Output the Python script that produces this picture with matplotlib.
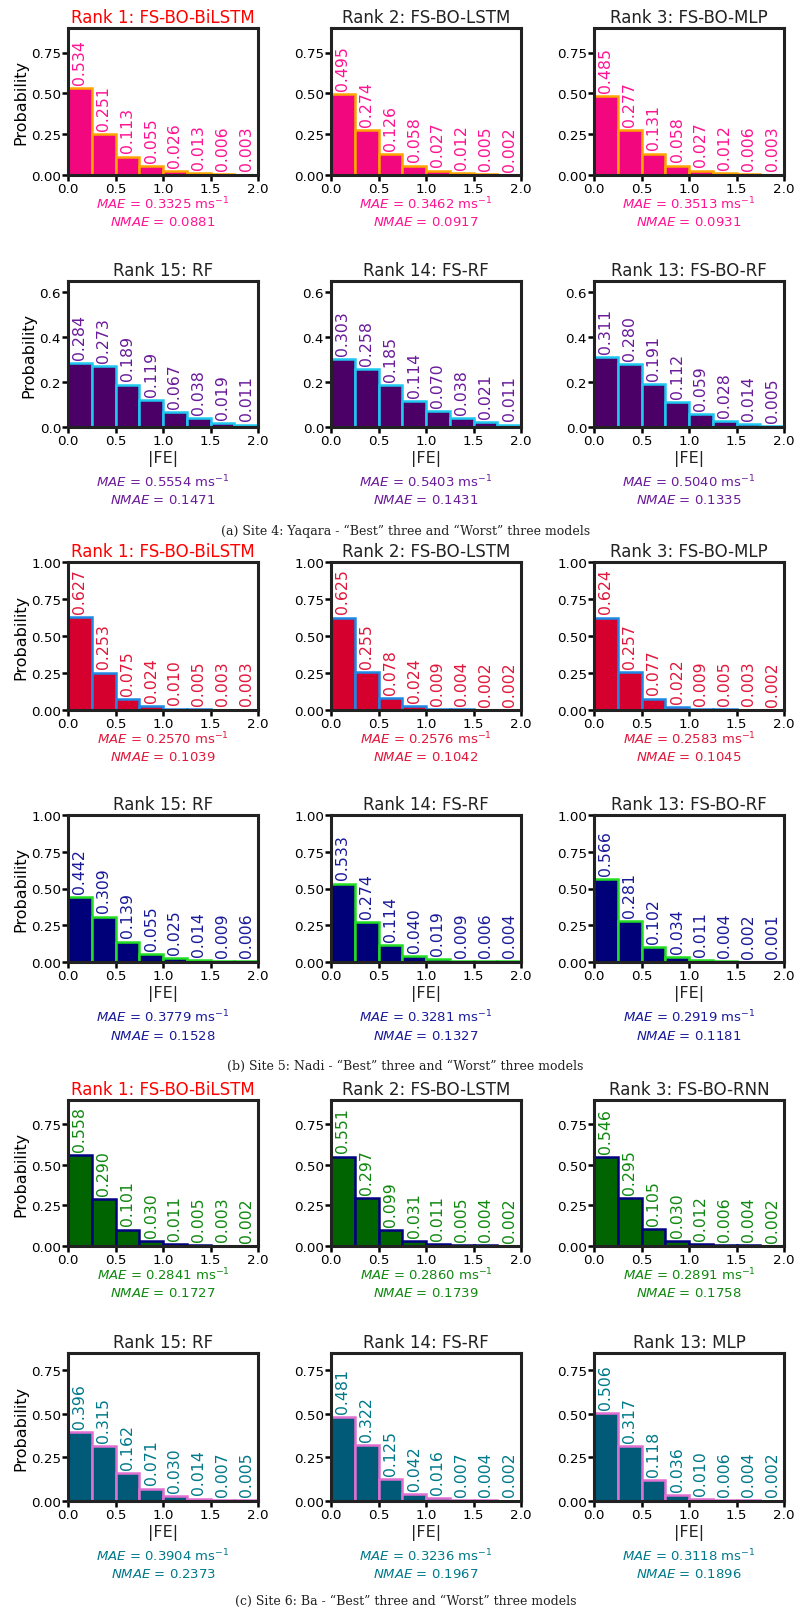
import numpy as np
import matplotlib
matplotlib.use("Agg")
import matplotlib.pyplot as plt

# bin edges of |FE| (width 0.25)
bin_edges = [0.0, 0.25, 0.5, 0.75, 1.0, 1.25, 1.5, 1.75]

# Site 4: Yaqara
a_best_titles = ["Rank 1: FS-BO-BiLSTM", "Rank 2: FS-BO-LSTM", "Rank 3: FS-BO-MLP"]
a_best_probs = [
    [0.534, 0.251, 0.113, 0.055, 0.026, 0.013, 0.006, 0.003],
    [0.495, 0.274, 0.126, 0.058, 0.027, 0.012, 0.005, 0.002],
    [0.485, 0.277, 0.131, 0.058, 0.027, 0.012, 0.006, 0.003],
]
a_best_mae = ["0.3325", "0.3462", "0.3513"]
a_best_nmae = ["0.0881", "0.0917", "0.0931"]

a_worst_titles = ["Rank 15: RF", "Rank 14: FS-RF", "Rank 13: FS-BO-RF"]
a_worst_probs = [
    [0.284, 0.273, 0.189, 0.119, 0.067, 0.038, 0.019, 0.011],
    [0.303, 0.258, 0.185, 0.114, 0.070, 0.038, 0.021, 0.011],
    [0.311, 0.280, 0.191, 0.112, 0.059, 0.028, 0.014, 0.005],
]
a_worst_mae = ["0.5554", "0.5403", "0.5040"]
a_worst_nmae = ["0.1471", "0.1431", "0.1335"]

# Site 5: Nadi
b_best_titles = ["Rank 1: FS-BO-BiLSTM", "Rank 2: FS-BO-LSTM", "Rank 3: FS-BO-MLP"]
b_best_probs = [
    [0.627, 0.253, 0.075, 0.024, 0.010, 0.005, 0.003, 0.003],
    [0.625, 0.255, 0.078, 0.024, 0.009, 0.004, 0.002, 0.002],
    [0.624, 0.257, 0.077, 0.022, 0.009, 0.005, 0.003, 0.002],
]
b_best_mae = ["0.2570", "0.2576", "0.2583"]
b_best_nmae = ["0.1039", "0.1042", "0.1045"]

b_worst_titles = ["Rank 15: RF", "Rank 14: FS-RF", "Rank 13: FS-BO-RF"]
b_worst_probs = [
    [0.442, 0.309, 0.139, 0.055, 0.025, 0.014, 0.009, 0.006],
    [0.533, 0.274, 0.114, 0.040, 0.019, 0.009, 0.006, 0.004],
    [0.566, 0.281, 0.102, 0.034, 0.011, 0.004, 0.002, 0.001],
]
b_worst_mae = ["0.3779", "0.3281", "0.2919"]
b_worst_nmae = ["0.1528", "0.1327", "0.1181"]

# Site 6: Ba
c_best_titles = ["Rank 1: FS-BO-BiLSTM", "Rank 2: FS-BO-LSTM", "Rank 3: FS-BO-RNN"]
c_best_probs = [
    [0.558, 0.290, 0.101, 0.030, 0.011, 0.005, 0.003, 0.002],
    [0.551, 0.297, 0.099, 0.031, 0.011, 0.005, 0.004, 0.002],
    [0.546, 0.295, 0.105, 0.030, 0.012, 0.006, 0.004, 0.002],
]
c_best_mae = ["0.2841", "0.2860", "0.2891"]
c_best_nmae = ["0.1727", "0.1739", "0.1758"]

c_worst_titles = ["Rank 15: RF", "Rank 14: FS-RF", "Rank 13: MLP"]
c_worst_probs = [
    [0.396, 0.315, 0.162, 0.071, 0.030, 0.014, 0.007, 0.005],
    [0.481, 0.322, 0.125, 0.042, 0.016, 0.007, 0.004, 0.002],
    [0.506, 0.317, 0.118, 0.036, 0.010, 0.006, 0.004, 0.002],
]
c_worst_mae = ["0.3904", "0.3236", "0.3118"]
c_worst_nmae = ["0.2373", "0.1967", "0.1896"]

captions = [
    "(a) Site 4: Yaqara - \u201cBest\u201d three and \u201cWorst\u201d three models",
    "(b) Site 5: Nadi - \u201cBest\u201d three and \u201cWorst\u201d three models",
    "(c) Site 6: Ba - \u201cBest\u201d three and \u201cWorst\u201d three models",
]

W, H = 795, 1608
fig = plt.figure(figsize=(W / 100, H / 100), dpi=100)

col_left = [68, 331, 594]
ax_w = 190

# (titles, probs, mae, nmae, top px, bottom px, ylim, yticks, fill, edge, text colour, has xlabel)
rows = [
    (a_best_titles, a_best_probs, a_best_mae, a_best_nmae, 29, 176, 0.9,
     [0, 0.25, 0.5, 0.75], "#f2077f", "#ffa500", "#ff1493", False),
    (a_worst_titles, a_worst_probs, a_worst_mae, a_worst_nmae, 282, 428, 0.65,
     [0, 0.2, 0.4, 0.6], "#4b0068", "#1ec8f0", "#6a1b9a", True),
    (b_best_titles, b_best_probs, b_best_mae, b_best_nmae, 563, 711, 1.0,
     [0, 0.25, 0.5, 0.75, 1.0], "#d6002f", "#1e88e5", "#e0183c", False),
    (b_worst_titles, b_worst_probs, b_worst_mae, b_worst_nmae, 816, 963, 1.0,
     [0, 0.25, 0.5, 0.75, 1.0], "#000078", "#22dd22", "#1a1a9a", True),
    (c_best_titles, c_best_probs, c_best_mae, c_best_nmae, 1101, 1247, 0.9,
     [0, 0.25, 0.5, 0.75], "#006400", "#000080", "#118811", False),
    (c_worst_titles, c_worst_probs, c_worst_mae, c_worst_nmae, 1354, 1502, 0.85,
     [0, 0.25, 0.5, 0.75], "#005a78", "#e070d0", "#00798a", True),
]

for titles, probs, maes, nmaes, top, bottom, ymax, yticks, fill, edge, tcol, xlab in rows:
    for j in range(3):
        left = col_left[j]
        ax = fig.add_axes([left / W, 1 - bottom / H, ax_w / W, (bottom - top) / H])
        vals = probs[j]
        ax.bar(bin_edges, vals, width=0.25, align="edge", color=fill,
               edgecolor=edge, linewidth=1.8)
        for x0, v in zip(bin_edges, vals):
            ax.annotate(f"{v:.3f}", (x0 + 0.125, v), xytext=(0, 3),
                        textcoords="offset points", rotation=90,
                        ha="center", va="bottom", fontsize=11.3, color=tcol)
        ax.set_xlim(0, 2)
        ax.set_ylim(0, ymax)
        ax.set_xticks([0, 0.5, 1.0, 1.5, 2.0])
        ax.set_yticks(yticks)
        ax.tick_params(labelsize=9.7, width=1.8, length=4, pad=1)
        for sp in ax.spines.values():
            sp.set_linewidth(2.2)
            sp.set_color("#222222")
        tc = "red" if titles[j].startswith("Rank 1:") else "#222222"
        ax.set_title(titles[j], fontsize=12, color=tc, pad=4)
        if j == 0:
            ax.set_ylabel("Probability", fontsize=11.5, labelpad=2)
        cx = (left + ax_w / 2) / W
        if xlab:
            fig.text(cx, 1 - (bottom + 31) / H, "|FE|", fontsize=11.5,
                     ha="center", va="center", color="#222222")
            off1, off2 = 54, 73
        else:
            off1, off2 = 28, 47
        fig.text(cx, 1 - (bottom + off1) / H,
                 r"$\it{MAE}$ = " + maes[j] + r" ms$^{-1}$",
                 fontsize=9.5, ha="center", va="center", color=tcol)
        fig.text(cx, 1 - (bottom + off2) / H,
                 r"$\it{NMAE}$ = " + nmaes[j],
                 fontsize=9.5, ha="center", va="center", color=tcol)

for cap, y in zip(captions, [531, 1066, 1601]):
    fig.text(0.51, 1 - y / H, cap, fontsize=9, family="DejaVu Serif",
             ha="center", va="center", color="#222222")

fig.savefig("out.png", dpi=100)
